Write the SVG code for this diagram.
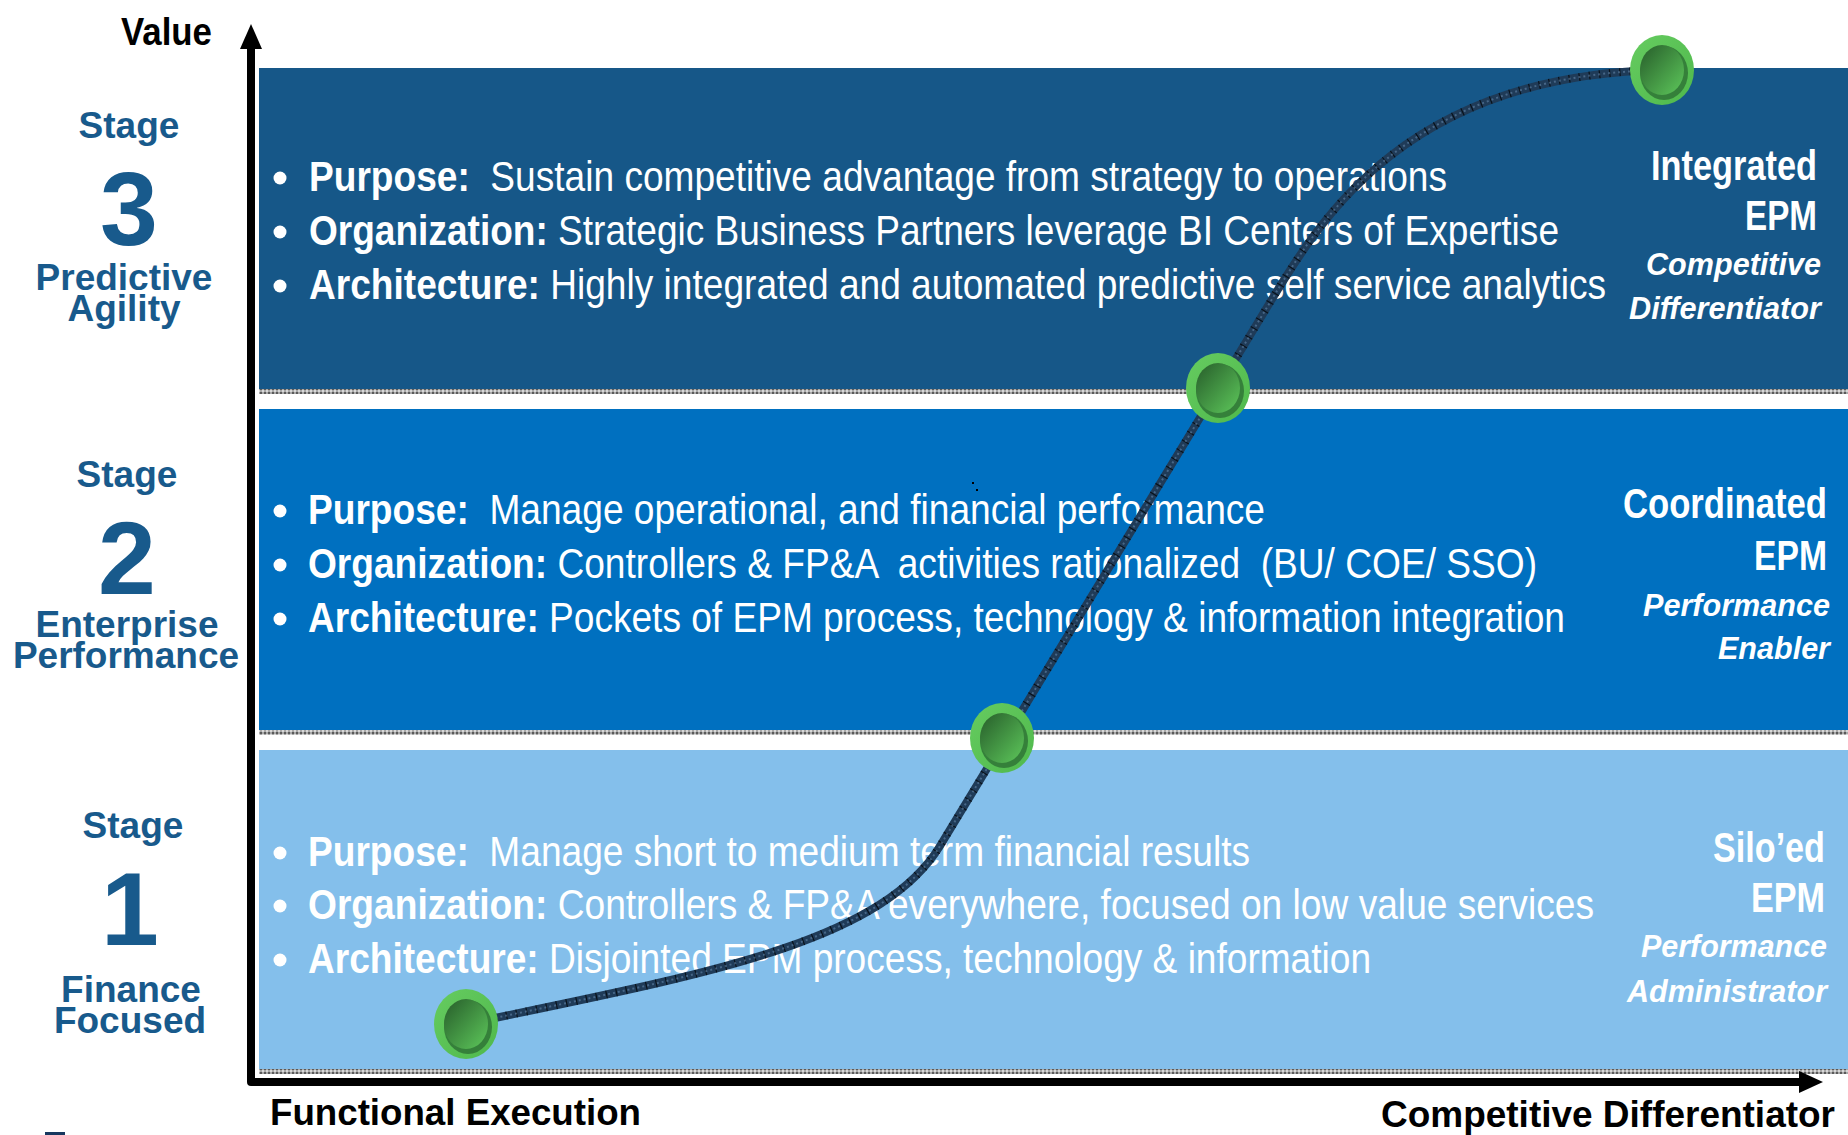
<svg xmlns="http://www.w3.org/2000/svg" width="1848" height="1135" viewBox="0 0 1848 1135">
<style>
.lbl{font-family:"Liberation Sans",Arial,sans-serif;font-weight:bold;fill:#185a8c;text-anchor:middle}
.num{font-family:"Liberation Sans",Arial,sans-serif;font-weight:bold;fill:#185a8c;text-anchor:middle;font-size:104px}
.ax{font-family:"Liberation Sans",Arial,sans-serif;font-weight:bold;fill:#000}
.bt{font-family:"Liberation Sans",Arial,sans-serif;font-size:43px;fill:#fff;white-space:pre}
.bt tspan.b{font-weight:bold}
.rt{font-family:"Liberation Sans",Arial,sans-serif;font-weight:bold;fill:#fff;font-size:42px}
.ri{font-family:"Liberation Sans",Arial,sans-serif;font-weight:bold;font-style:italic;fill:#fff;font-size:32px}
</style>
<defs>
<pattern id="hatch" width="4" height="4" patternUnits="userSpaceOnUse">
<rect width="4" height="4" fill="#a8a8a8"/>
<rect width="2" height="2" fill="#5a5a5a"/>
<rect x="2" y="2" width="2" height="2" fill="#d8d8d8"/>
</pattern>
<linearGradient id="outerG" x1="0" y1="0" x2="1" y2="1">
<stop offset="0" stop-color="#66cc60"/>
<stop offset="1" stop-color="#4fb84c"/>
</linearGradient>
<linearGradient id="innerG" x1="0.1" y1="0.1" x2="0.9" y2="0.9">
<stop offset="0" stop-color="#2c672f"/>
<stop offset="1" stop-color="#58bd56"/>
</linearGradient>
<g id="dot">
<ellipse cx="0" cy="0" rx="32" ry="35" fill="url(#outerG)"/>
<ellipse cx="2" cy="3" rx="24" ry="27" fill="#35803a"/>
<ellipse cx="0" cy="0" rx="22" ry="25" fill="url(#innerG)"/>
</g>
</defs>
<rect width="1848" height="1135" fill="#fff"/>

<g id="band3">
<rect x="259" y="68" width="1589" height="321" fill="#165788"/>
<rect x="259" y="389" width="1589" height="5" fill="url(#hatch)"/>
</g>
<g id="band2">
<rect x="259" y="409" width="1589" height="321" fill="#0070c0"/>
<rect x="259" y="730" width="1589" height="5" fill="url(#hatch)"/>
</g>
<g id="band1">
<rect x="259" y="750" width="1589" height="319" fill="#84bfeb"/>
<rect x="259" y="1069" width="1589" height="5" fill="url(#hatch)"/>
</g>

<g id="band3-text">
<circle cx="280" cy="178" r="6.5" fill="#fff"/>
<circle cx="280" cy="232" r="6.5" fill="#fff"/>
<circle cx="280" cy="286" r="6.5" fill="#fff"/>
<text class="bt" x="309" y="191" textLength="1138" lengthAdjust="spacingAndGlyphs" xml:space="preserve"><tspan class="b">Purpose:</tspan>  Sustain competitive advantage from strategy to operations</text>
<text class="bt" x="309" y="245" textLength="1250" lengthAdjust="spacingAndGlyphs" xml:space="preserve"><tspan class="b">Organization:</tspan> Strategic Business Partners leverage BI Centers of Expertise</text>
<text class="bt" x="309" y="299" textLength="1297" lengthAdjust="spacingAndGlyphs" xml:space="preserve"><tspan class="b">Architecture:</tspan> Highly integrated and automated predictive self service analytics</text>
</g>
<g id="band2-text">
<circle cx="280" cy="511" r="6.5" fill="#fff"/>
<circle cx="280" cy="565" r="6.5" fill="#fff"/>
<circle cx="280" cy="619" r="6.5" fill="#fff"/>
<text class="bt" x="308" y="524" textLength="957" lengthAdjust="spacingAndGlyphs" xml:space="preserve"><tspan class="b">Purpose:</tspan>  Manage operational, and financial performance</text>
<text class="bt" x="308" y="578" textLength="1229" lengthAdjust="spacingAndGlyphs" xml:space="preserve"><tspan class="b">Organization:</tspan> Controllers &amp; FP&amp;A  activities rationalized  (BU/ COE/ SSO)</text>
<text class="bt" x="308" y="632" textLength="1257" lengthAdjust="spacingAndGlyphs" xml:space="preserve"><tspan class="b">Architecture:</tspan> Pockets of EPM process, technology &amp; information integration</text>
</g>
<g id="band1-text">
<circle cx="280" cy="853" r="6.5" fill="#fff"/>
<circle cx="280" cy="906" r="6.5" fill="#fff"/>
<circle cx="280" cy="960" r="6.5" fill="#fff"/>
<text class="bt" x="308" y="866" textLength="942" lengthAdjust="spacingAndGlyphs" xml:space="preserve"><tspan class="b">Purpose:</tspan>  Manage short to medium term financial results</text>
<text class="bt" x="308" y="919" textLength="1286" lengthAdjust="spacingAndGlyphs" xml:space="preserve"><tspan class="b">Organization:</tspan> Controllers &amp; FP&amp;A everywhere, focused on low value services</text>
<text class="bt" x="308" y="973" textLength="1063" lengthAdjust="spacingAndGlyphs" xml:space="preserve"><tspan class="b">Architecture:</tspan> Disjointed EPM process, technology &amp; information</text>
</g>

<g id="connectors">
<path d="M 466 1024 C 700 975, 880 944, 940 846 L 1266 309 C 1316 227, 1400 75, 1662 70" fill="none" stroke="#1f3b58" stroke-width="8"/>
<path d="M 466 1024 C 700 975, 880 944, 940 846 L 1266 309 C 1316 227, 1400 75, 1662 70" fill="none" stroke="#000" stroke-width="8" stroke-dasharray="1.2 9" opacity="0.7"/>
<path d="M 466 1024 C 700 975, 880 944, 940 846 L 1266 309 C 1316 227, 1400 75, 1662 70" fill="none" stroke="#6f94b8" stroke-width="2" stroke-dasharray="2 3" opacity="0.5"/>
</g>

<g id="stage-point-0"><use href="#dot" x="466" y="1024"/></g>
<g id="stage-point-1"><use href="#dot" x="1002" y="738"/></g>
<g id="stage-point-2"><use href="#dot" x="1218" y="388"/></g>
<g id="stage-point-3"><use href="#dot" x="1662" y="70"/></g>

<g id="right-labels">
<text class="rt" x="1651" y="180" textLength="166" lengthAdjust="spacingAndGlyphs">Integrated</text>
<text class="rt" x="1745" y="230" textLength="72" lengthAdjust="spacingAndGlyphs">EPM</text>
<text class="ri" x="1646" y="275" textLength="175" lengthAdjust="spacingAndGlyphs">Competitive</text>
<text class="ri" x="1629" y="319" textLength="192" lengthAdjust="spacingAndGlyphs">Differentiator</text>

<text class="rt" x="1623" y="518" textLength="204" lengthAdjust="spacingAndGlyphs">Coordinated</text>
<text class="rt" x="1754" y="570" textLength="73" lengthAdjust="spacingAndGlyphs">EPM</text>
<text class="ri" x="1643" y="616" textLength="187" lengthAdjust="spacingAndGlyphs">Performance</text>
<text class="ri" x="1718" y="659" textLength="112" lengthAdjust="spacingAndGlyphs">Enabler</text>

<text class="rt" x="1713" y="862" textLength="112" lengthAdjust="spacingAndGlyphs">Silo’ed</text>
<text class="rt" x="1751" y="912" textLength="74" lengthAdjust="spacingAndGlyphs">EPM</text>
<text class="ri" x="1641" y="957" textLength="186" lengthAdjust="spacingAndGlyphs">Performance</text>
<text class="ri" x="1627" y="1002" textLength="200" lengthAdjust="spacingAndGlyphs">Administrator</text>
</g>

<g id="stage3-label">
<text class="lbl" x="129" y="138" font-size="37">Stage</text>
<text class="num" x="129" y="245">3</text>
<text class="lbl" x="124" y="290" font-size="37">Predictive</text>
<text class="lbl" x="124" y="321" font-size="37">Agility</text>
</g>
<g id="stage2-label">
<text class="lbl" x="127" y="487" font-size="37">Stage</text>
<text class="num" x="127" y="594">2</text>
<text class="lbl" x="127" y="637" font-size="37">Enterprise</text>
<text class="lbl" x="126" y="668" font-size="37">Performance</text>
</g>
<g id="stage1-label">
<text class="lbl" x="133" y="838" font-size="37">Stage</text>
<text class="num" x="130" y="945">1</text>
<text class="lbl" x="131" y="1002" font-size="37">Finance</text>
<text class="lbl" x="130" y="1033" font-size="37">Focused</text>
</g>

<g id="axes">
<path d="M 251 46 L 251 1082 L 1801 1082" fill="none" stroke="#000" stroke-width="8" stroke-linejoin="round"/>
<polygon points="240,49 251,24 262,49" fill="#000"/>
<polygon points="1799,1071 1823,1082 1799,1093" fill="#000"/>
<text class="ax" x="121" y="45" font-size="39" textLength="91" lengthAdjust="spacingAndGlyphs">Value</text>
<text class="ax" x="270" y="1125" font-size="36" textLength="371" lengthAdjust="spacingAndGlyphs">Functional Execution</text>
<text class="ax" x="1381" y="1127" font-size="36" textLength="454" lengthAdjust="spacingAndGlyphs">Competitive Differentiator</text>
</g>

<rect x="972" y="482" width="2" height="2" fill="#000"/>
<rect x="976" y="489" width="2" height="2" fill="#000"/>
<rect x="45" y="1132" width="20" height="3" fill="#17375e"/>
</svg>
